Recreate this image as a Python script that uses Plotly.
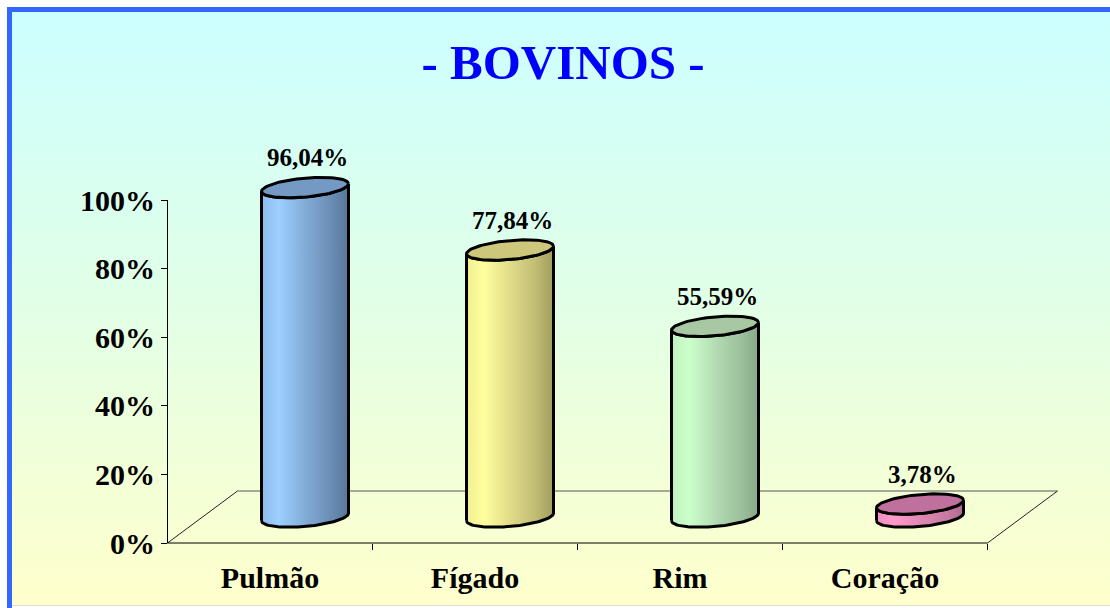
import numpy as np
import plotly.graph_objects as go

# ---------------- data ----------------
categories = ["Pulmão", "Fígado", "Rim", "Coração"]
values = [96.04, 77.84, 55.59, 3.78]
value_labels = ["96,04%", "77,84%", "55,59%", "3,78%"]
y_tickvals = [0, 20, 40, 60, 80, 100]
y_ticktext = ["0%", "20%", "40%", "60%", "80%", "100%"]
title_text = "- BOVINOS -"

# ---------------- styling ----------------
body_scales = [
    [[0, "#8cbcec"], [0.2, "#9dcfff"], [0.5, "#84acd8"], [0.8, "#6a8db6"], [1, "#587698"]],
    [[0, "#f0f090"], [0.2, "#ffffa0"], [0.5, "#e0dc88"], [0.8, "#c0bc74"], [1, "#a09c5c"]],
    [[0, "#c0f0c0"], [0.2, "#ccffcc"], [0.5, "#b4dcb4"], [0.8, "#9cc09c"], [1, "#88a888"]],
    [[0, "#f090c0"], [0.2, "#ff99cc"], [0.5, "#e088b4"], [0.8, "#c87aa2"], [1, "#b06a90"]],
]
cap_colors = ["#7399c4", "#ccc77a", "#a8c8a4", "#c0709c"]

W, H = 1110, 608
SERIF = "Liberation Serif"

# pixel <-> data helpers (plot area is whole figure)
PX_X0, PX_PER_CAT = 270.0, 205.0
PX_Y0, PX_PER_PCT = 543.0, 3.43


def xd(px):
    return (px - PX_X0) / PX_PER_CAT


def yd(py):
    return (PX_Y0 - py) / PX_PER_PCT


DX = 70 / PX_PER_CAT      # depth offset in x units
DY = 52 / PX_PER_PCT      # depth offset in y units
A = 43.5 / PX_PER_CAT     # cylinder half width
B = 9.5 / PX_PER_PCT      # ellipse half height
S = 3.8 / PX_PER_PCT      # ellipse tilt

fig = go.Figure()

# background gradient
bx = [xd(12), xd(W), xd(W), xd(12), xd(12)]
by = [yd(605), yd(605), yd(12), yd(12), yd(605)]
fig.add_trace(go.Scatter(
    x=bx, y=by, mode="lines", fill="toself", line=dict(width=0),
    fillgradient=dict(type="vertical", colorscale=[[0, "#ffffcc"], [0.5, "#e2ffe6"], [1, "#ccffff"]]),
    hoverinfo="skip", showlegend=False))

# floor
n = len(categories)
fx0, fx1 = -0.5, n - 0.5
fig.add_trace(go.Scatter(x=[fx0 + DX, fx1 + DX], y=[DY, DY], mode="lines",
                         line=dict(color="#555555", width=1), hoverinfo="skip", showlegend=False))
fig.add_trace(go.Scatter(x=[fx0, fx0 + DX, None, fx1, fx1 + DX], y=[0, DY, None, 0, DY], mode="lines",
                         line=dict(color="#222222", width=1), hoverinfo="skip", showlegend=False))
fig.add_trace(go.Scatter(x=[fx0, fx1], y=[0, 0], mode="lines",
                         line=dict(color="black", width=1), hoverinfo="skip", showlegend=False))
# y axis line
fig.add_trace(go.Scatter(x=[fx0, fx0], y=[0, 100], mode="lines",
                         line=dict(color="black", width=1), hoverinfo="skip", showlegend=False))

# cylinders
yb = DY / 2
for i, v in enumerate(values):
    xc = i + DX / 2
    yt = yb + v
    tb = np.linspace(np.pi, 2 * np.pi, 50)
    tt = tb[::-1]
    xs = np.concatenate([xc + A * np.cos(tb), xc + A * np.cos(tt)])
    ys = np.concatenate([yb + B * np.sin(tb) + S * np.cos(tb), yt + B * np.sin(tt) + S * np.cos(tt)])
    xs = np.append(xs, xs[0])
    ys = np.append(ys, ys[0])
    fig.add_trace(go.Scatter(
        x=xs, y=ys, mode="lines", fill="toself",
        fillgradient=dict(type="horizontal", colorscale=body_scales[i]),
        line=dict(color="black", width=3), hoverinfo="skip", showlegend=False))
    tc = np.linspace(0, 2 * np.pi, 90)
    fig.add_trace(go.Scatter(
        x=xc + A * np.cos(tc), y=yt + B * np.sin(tc) + S * np.cos(tc), mode="lines", fill="toself",
        fillcolor=cap_colors[i], line=dict(color="black", width=3),
        hoverinfo="skip", showlegend=False))
    fig.add_annotation(x=xc + 0.01, y=yt + np.hypot(B, S), text=value_labels[i], showarrow=False,
                       yanchor="bottom", yshift=4,
                       font=dict(family=SERIF, size=25, color="black", weight="bold"))

fig.update_layout(
    width=W, height=H, margin=dict(l=0, r=0, t=0, b=0),
    paper_bgcolor="white", plot_bgcolor="rgba(0,0,0,0)",
    title=dict(text=title_text, x=563 / W, xanchor="center", y=1 - 62 / H, yanchor="middle",
               font=dict(family=SERIF, size=49, color="#0000ff", weight="bold")),
    xaxis=dict(range=[xd(0), xd(W)], anchor="free", position=(H - PX_Y0) / H,
               tickmode="array", tickvals=list(range(n)), ticktext=categories,
               ticks="outside", ticklen=8, tickcolor="rgba(0,0,0,0)",
               minor=dict(tickmode="array", tickvals=[i + 0.5 for i in range(n)], ticks="outside",
                          ticklen=6, tickcolor="black", tickwidth=1, showgrid=False),
               tickfont=dict(family=SERIF, size=30, color="black", weight="bold"),
               showgrid=False, zeroline=False, showline=False, fixedrange=True),
    yaxis=dict(range=[yd(H), yd(0)], anchor="free", position=167 / W, side="left",
               tickmode="array", tickvals=y_tickvals, ticktext=y_ticktext,
               ticks="outside", ticklen=6, tickcolor="black", tickwidth=1,
               tickfont=dict(family=SERIF, size=30, color="black", weight="bold"),
               showgrid=False, zeroline=False, showline=False, fixedrange=True),
    shapes=[
        dict(type="rect", xref="paper", yref="paper", x0=7 / W, x1=12 / W, y0=0, y1=1 - 7 / H,
             fillcolor="#3366ff", line=dict(width=0), layer="above"),
        dict(type="rect", xref="paper", yref="paper", x0=7 / W, x1=1, y0=1 - 12 / H, y1=1 - 7 / H,
             fillcolor="#3366ff", line=dict(width=0), layer="above"),
        dict(type="line", xref="paper", yref="paper", x0=12 / W, x1=1, y0=1 - 605.5 / H, y1=1 - 605.5 / H,
             line=dict(color="#dddddd", width=1), layer="above"),
    ],
)

fig.write_html("out.html", config={"displayModeBar": False, "staticPlot": True},
               post_script="document.body.style.margin='0';")
